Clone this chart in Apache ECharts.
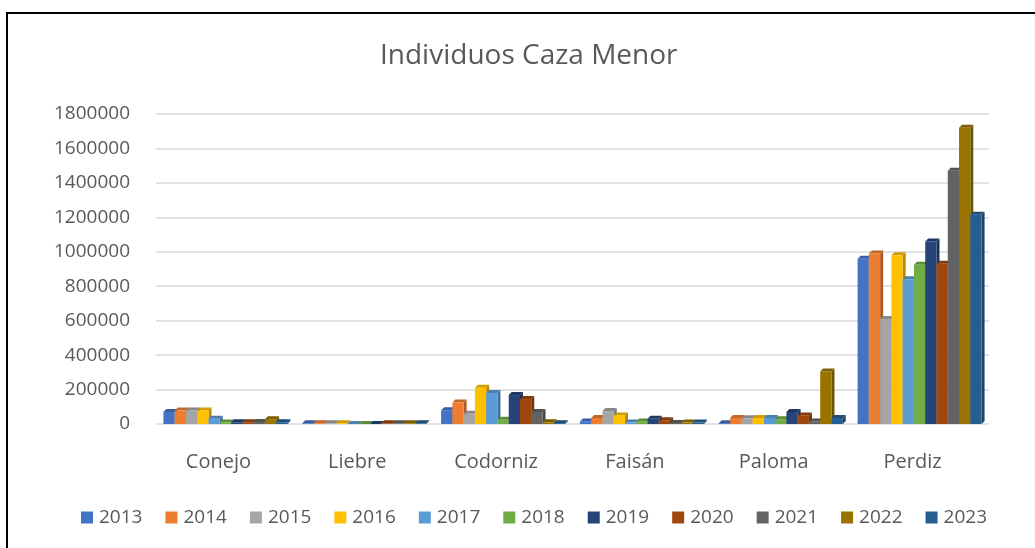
<!DOCTYPE html>
<html>
<head>
<meta charset="utf-8">
<script src="https://cdn.jsdelivr.net/npm/echarts@6/dist/echarts.min.js"></script>
<style>
  html, body { margin: 0; padding: 0; background: #fff; overflow: hidden; }
  #frame { position: absolute; left: 6px; top: 12px; width: 1200px; height: 700px;
           border: 2px solid #000; box-sizing: border-box; }
  #chart { position: absolute; left: 0; top: 0; width: 1035px; height: 548px; }
</style>
</head>
<body>
<div id="frame"></div>
<div id="chart"></div>
<script>
// Species on the category axis
const categories = ['Conejo', 'Liebre', 'Codorniz', 'Faisán', 'Paloma', 'Perdiz'];
// Season labels (one series per year)
const years = ['2013', '2014', '2015', '2016', '2017', '2018', '2019', '2020', '2021', '2022', '2023'];
// Individuals hunted per species, one array per year (same order as categories)
const v2013 = [70000, 4000, 80000, 15000, 5000, 960000];
const v2014 = [78000, 4000, 125000, 35000, 35000, 990000];
const v2015 = [78000, 4000, 60000, 75000, 33000, 610000];
const v2016 = [78000, 4000, 210000, 50000, 35000, 980000];
const v2017 = [30000, 0, 180000, 8000, 35000, 840000];
const v2018 = [8000, 0, 25000, 15000, 28000, 925000];
const v2019 = [10000, 0, 168000, 30000, 70000, 1060000];
const v2020 = [10000, 4000, 145000, 22000, 50000, 930000];
const v2021 = [12000, 4000, 70000, 6000, 15000, 1470000];
const v2022 = [28000, 4000, 10000, 8000, 305000, 1720000];
const v2023 = [10000, 4000, 5000, 8000, 35000, 1215000];
const seriesValues = [v2013, v2014, v2015, v2016, v2017, v2018, v2019, v2020, v2021, v2022, v2023];
// Y axis ticks
const yMin = 0, yMax = 1800000, yStep = 200000;

const palette = ['#4472C4', '#ED7D31', '#A5A5A5', '#FFC000', '#5B9BD5', '#70AD47',
                 '#264478', '#9E480E', '#636363', '#997300', '#255E91'];

const FONT = '"Open Sans", "Noto Sans", sans-serif';
const TEXT = '#595959';
const GROUP_FILL = 0.893;   // share of each category band covered by the cluster
const DX = 3, DY = 3;       // depth offset of the column caps

function shade(hex, f) {
  const n = parseInt(hex.slice(1), 16);
  const r = Math.round(((n >> 16) & 255) * f);
  const g = Math.round(((n >> 8) & 255) * f);
  const b = Math.round((n & 255) * f);
  return 'rgb(' + r + ',' + g + ',' + b + ')';
}

// Column with a front face, a top cap and a right side, positioned by the axes
function makeRenderer(sIdx, count) {
  return function (params, api) {
    const cat = api.value(0);
    const val = api.value(1);
    const band = api.size([1, 0])[0];
    const bw = band * GROUP_FILL / count;
    const base = api.coord([cat, 0]);
    const top = api.coord([cat, val]);
    const x0 = base[0] - band * GROUP_FILL / 2 + sIdx * bw;
    const x1 = x0 + bw;
    const yb = base[1], yt = top[1];
    const color = api.visual('color');
    return {
      type: 'group',
      children: [
        { type: 'polygon', shape: { points: [[x1, yt], [x1 + DX, yt - DY], [x1 + DX, yb - DY], [x1, yb]] },
          style: { fill: shade(color, 0.72) } },
        { type: 'polygon', shape: { points: [[x0, yt], [x0 + DX, yt - DY], [x1 + DX, yt - DY], [x1, yt]] },
          style: { fill: shade(color, 0.82) } },
        { type: 'rect', shape: { x: x0, y: yt, width: bw, height: Math.max(yb - yt, 0) },
          style: { fill: color } }
      ]
    };
  };
}

const series = years.map((y, s) => ({
  name: y,
  type: 'custom',
  renderItem: makeRenderer(s, years.length),
  itemStyle: { color: palette[s] },
  encode: { x: 0, y: 1 },
  data: categories.map((c, i) => [i, seriesValues[s][i]]),
  z: 2 + s
}));

const chart = echarts.init(document.getElementById('chart'), null, { renderer: 'canvas' });
chart.setOption({
  animation: false,
  backgroundColor: 'transparent',
  title: {
    text: 'Individuos Caza Menor',
    left: 375,
    top: 37,
    textStyle: { fontFamily: FONT, fontSize: 28, fontWeight: 'normal', color: TEXT }
  },
  legend: {
    data: years,
    bottom: 16,
    left: 76,
    icon: 'rect',
    itemWidth: 12,
    itemHeight: 12,
    itemGap: 23,
    textStyle: { fontFamily: FONT, fontSize: 19, color: TEXT, padding: [0, 0, 0, 1] }
  },
  grid: { left: 156, right: 46, top: 114, bottom: 124, containLabel: false },
  xAxis: {
    type: 'category',
    data: categories,
    axisLine: { show: false },
    axisTick: { show: false },
    splitLine: { show: false },
    axisLabel: {
      fontFamily: FONT, fontSize: 20, color: TEXT, margin: 28,
      padding: [0, 14, 0, 0]
    }
  },
  yAxis: {
    type: 'value',
    min: yMin,
    max: yMax,
    interval: yStep,
    axisLine: { show: false },
    axisTick: { show: false },
    splitLine: { lineStyle: { color: '#d9d9d9', width: 1.5 } },
    axisLabel: {
      fontFamily: FONT, fontSize: 19, color: TEXT, margin: 26,
      padding: [14, 0, 0, 0],
      formatter: v => String(v)
    }
  },
  series: series
});
</script>
</body>
</html>
